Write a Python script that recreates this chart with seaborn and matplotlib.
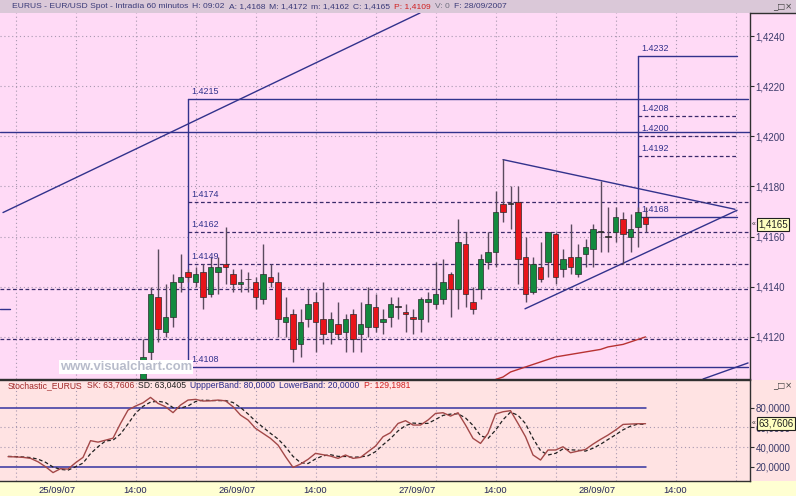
import numpy as np
import pandas as pd
import seaborn as sns
import matplotlib.pyplot as plt
from matplotlib.patches import Rectangle

# hourly bars, bar 0 = 25/09/07 01:00
bars = list(range(14, 82))
opens = [1.4098, 1.4114, 1.4136, 1.4122, 1.4128, 1.4142, 1.4146, 1.4142, 1.4146, 1.4137,
         1.4146, 1.4149, 1.4145, 1.4141, 1.4143, 1.4142, 1.4135, 1.4144, 1.4142, 1.4126,
         1.4129, 1.4117, 1.4127, 1.4134, 1.4127, 1.4122, 1.4125, 1.4122, 1.4129, 1.4121,
         1.4124, 1.4132, 1.4126, 1.4128, 1.4132, 1.4130, 1.4128, 1.4127, 1.4134, 1.4133,
         1.4135, 1.4145, 1.4139, 1.4157, 1.4134, 1.4139, 1.4150, 1.4154, 1.4173, 1.4173,
         1.4174, 1.4152, 1.4138, 1.4148, 1.4150, 1.4161, 1.4147, 1.4152, 1.4145, 1.4153,
         1.4155, 1.4162, 1.4160, 1.4162, 1.4167, 1.4160, 1.4164, 1.4168]
highs = [1.4119, 1.4140, 1.4155, 1.4141, 1.4145, 1.4153, 1.4147, 1.4148, 1.4149, 1.4152,
         1.4152, 1.4164, 1.4147, 1.4147, 1.4146, 1.4144, 1.4157, 1.4149, 1.4146, 1.4136,
         1.4131, 1.4131, 1.4139, 1.4138, 1.4142, 1.4130, 1.4134, 1.4129, 1.4131, 1.4134,
         1.4140, 1.4137, 1.4131, 1.4136, 1.4136, 1.4133, 1.4131, 1.4136, 1.4138, 1.4150,
         1.4151, 1.4146, 1.4167, 1.4162, 1.4140, 1.4153, 1.4162, 1.4178, 1.4191, 1.4180,
         1.4180, 1.4160, 1.4152, 1.4158, 1.4162, 1.4162, 1.4155, 1.4165, 1.4157, 1.4159,
         1.4165, 1.4182, 1.4172, 1.4172, 1.4170, 1.4169, 1.4172, 1.4172]
lows = [1.4095, 1.4110, 1.4118, 1.4120, 1.4124, 1.4138, 1.4142, 1.4140, 1.4131, 1.4136,
        1.4137, 1.4141, 1.4138, 1.4138, 1.4138, 1.4131, 1.4133, 1.4140, 1.4120, 1.4120,
        1.4110, 1.4112, 1.4124, 1.4114, 1.4117, 1.4117, 1.4119, 1.4114, 1.4114, 1.4114,
        1.4120, 1.4122, 1.4121, 1.4124, 1.4127, 1.4122, 1.4121, 1.4122, 1.4126, 1.4131,
        1.4133, 1.4128, 1.4131, 1.4132, 1.4129, 1.4135, 1.4147, 1.4148, 1.4166, 1.4163,
        1.4141, 1.4134, 1.4137, 1.4142, 1.4144, 1.4141, 1.4144, 1.4145, 1.4144, 1.4148,
        1.4148, 1.4154, 1.4154, 1.4158, 1.4149, 1.4154, 1.4156, 1.4162]
closes = [1.4112, 1.4137, 1.4123, 1.4128, 1.4142, 1.4144, 1.4144, 1.4145, 1.4136, 1.4148,
          1.4148, 1.4148, 1.4141, 1.4142, 1.4143, 1.4136, 1.4145, 1.4142, 1.4127, 1.4128,
          1.4115, 1.4126, 1.4133, 1.4126, 1.4121, 1.4127, 1.4121, 1.4127, 1.4119, 1.4125,
          1.4133, 1.4124, 1.4127, 1.4133, 1.4132, 1.4129, 1.4127, 1.4135, 1.4135, 1.4137,
          1.4142, 1.4139, 1.4158, 1.4137, 1.4131, 1.4151, 1.4154, 1.4170, 1.4170, 1.4173,
          1.4151, 1.4137, 1.4149, 1.4143, 1.4162, 1.4144, 1.4151, 1.4148, 1.4152, 1.4156,
          1.4163, 1.4162, 1.4160, 1.4168, 1.4161, 1.4163, 1.4170, 1.4165]

# long moving average (red curve)
ma_bars = list(range(61, 82))
ma_vals = [1.4103, 1.4104, 1.4106, 1.4107, 1.4108, 1.4109, 1.4110, 1.4111, 1.4112, 1.41125,
           1.4113, 1.41135, 1.4114, 1.41145, 1.4115, 1.4116, 1.41165, 1.4117, 1.4118, 1.4119,
           1.4120]

# stochastic
st_bars = list(range(-4, 82))
sk = [30.2, 30, 29.5, 28.5, 25, 20, 14, 18, 17.6, 24, 29.5, 46.5, 45, 47, 49, 64, 77.6, 81.7,
      85, 90.5, 84.4, 81, 75, 82.7, 87.8, 88.5, 86.8, 87, 87.8, 87, 81, 72.5, 67.5, 59, 53.9,
      48.8, 42, 30.2, 19.3, 22.7, 27.5, 33.6, 32.2, 30.8, 28.5, 31.9, 28.5, 29.5, 35.3, 41,
      50.5, 54.6, 64, 66.8, 62.4, 62.4, 67.5, 74.2, 74.9, 71.5, 74.9, 62.4, 48.8, 43.7, 53.9,
      73.6, 75.9, 77, 64, 50.5, 31.9, 26.8, 37, 37, 40.3, 34.2, 35.9, 37.6, 43, 47.8, 52.2,
      57.3, 63, 63.4, 63.7, 63.76]
sd = [30.5, 30.3, 29.9, 29.3, 27.7, 24.5, 19.7, 17.3, 16.5, 19.9, 23.7, 33.3, 40.3, 46.2, 47,
      53.3, 63.5, 74.4, 81.4, 85.7, 86.6, 85.3, 80.1, 79.6, 81.8, 86.3, 87.7, 87.4, 87.2, 87.3,
      85.3, 80.2, 73.7, 66.3, 60.1, 53.9, 48.2, 40.3, 30.5, 24.1, 23.2, 27.9, 31.1, 32.2, 30.5,
      30.4, 29.6, 30, 31.1, 35.3, 42.3, 48.7, 56.4, 61.8, 64.4, 63.9, 64.1, 68, 72.2, 73.5,
      73.8, 69.6, 62, 51.6, 48.8, 57.1, 67.8, 75.5, 72.3, 63.8, 48.8, 36.4, 31.9, 33.6, 38.1,
      37.2, 36.8, 35.9, 38.8, 42.8, 47.7, 52.4, 57.5, 61.2, 63.4, 63.04]

# drawn levels
fib_a = [1.4215, 1.4174, 1.4162, 1.4149, 1.4108]
fib_b = [1.4232, 1.4208, 1.4200, 1.4192, 1.4168]
full_dashed = [1.4139, 1.4119]
full_solid = 1.42017

W, H = 796, 496
NAVY = '#32328c'
PINK = '#ffdaf6'
SALMON = '#ffe3e3'
YELLOW = '#ffffd2'

sns.set_style('white')
plt.rcParams['font.family'] = ['Liberation Sans', 'DejaVu Sans']

fig = plt.figure(figsize=(W / 100, H / 100), dpi=100)


def fx(px):
    return px / W


def fy(py):
    return 1 - py / H


for (x0, y0, x1, y1, c) in [(0, 0, W, 13, '#dac8d8'), (750, 13, W, 380, PINK),
                            (750, 380, W, 481, SALMON), (0, 481, W, H, YELLOW)]:
    fig.patches.append(Rectangle((fx(x0), fy(y1)), fx(x1) - fx(x0), fy(y0) - fy(y1),
                                 transform=fig.transFigure, fc=c, ec='none', zorder=-5))

ax = fig.add_axes([0, fy(379), fx(750), fy(13) - fy(379)])
ax2 = fig.add_axes([0, fy(481), fx(750), fy(380) - fy(481)])
ax.set_facecolor(PINK)
ax2.set_facecolor(SALMON)

XL = (-5.07, 94.93)
grid_x = list(range(-3, 95, 8))

for a in (ax, ax2):
    a.set_xlim(*XL)
    for s in a.spines.values():
        s.set_color('#303030')
        s.set_linewidth(1)
    a.spines['left'].set_visible(False)
    a.yaxis.tick_right()
    a.grid(True, ls=(0, (1, 2.5)), color='#a898b0', lw=0.8)
    a.set_axisbelow(True)

ax.spines['top'].set_visible(False)

# ---- main price panel
ax.set_ylim(1.41032, 1.42492)
pt = np.arange(1.4120, 1.42401, 0.002)
ax.set_yticks(pt, [f'{v:.4f}'.replace('.', ',') for v in pt])
ax.set_xticks(grid_x)
ax.tick_params(axis='x', length=0, labelbottom=False)
ax.tick_params(axis='y', direction='out', length=3, pad=1, labelsize=7,
               labelcolor='#3a3a6a', color='#303030')

for b, o, h, l, c in zip(bars, opens, highs, lows, closes):
    col = '#138a3f' if c > o else ('#e8141a' if c < o else '#303030')
    ax.vlines(b, l, h, color='#5a4a5e', lw=1, zorder=3)
    body = max(abs(c - o), 0.000025)
    ax.bar(b, body, bottom=min(o, c), width=0.72, color=col, edgecolor='#2a2a2a',
           lw=0.5, zorder=4)

ax.plot(ma_bars, ma_vals, color='#b83232', lw=1, zorder=3)

# trend lines
ax.plot([-4.67, 50.93], [1.41696, 1.42492], color=NAVY, lw=1)
ax.plot([62.0, 92.93], [1.41907, 1.41709], color=NAVY, lw=1)
ax.plot([64.93, 93.2], [1.41312, 1.41705], color=NAVY, lw=1)
ax.plot([88.67, 94.67], [1.41032, 1.41096], color=NAVY, lw=1)
ax.plot([-5.07, -3.7], [1.41312, 1.41312], color=NAVY, lw=1)

# full width levels
ax.plot(XL, [full_solid, full_solid], color=NAVY, lw=1)
for v in full_dashed:
    ax.plot([-5.07, 94.6], [v, v], color='#3a2a6a', lw=0.9, ls=(0, (3, 2)))

# retracement set A
ax.plot([20, 20], [fib_a[0], fib_a[-1]], color=NAVY, lw=1)
for k, v in enumerate(fib_a):
    solid = k in (0, len(fib_a) - 1)
    ax.plot([20, 94.6], [v, v], color=NAVY if solid else '#3a2a6a', lw=1 if solid else 0.9,
            ls='-' if solid else (0, (3, 2)))
    ax.text(20.4, v + 0.00012, f'{v:.4f}', fontsize=6.5, color=NAVY, va='bottom', ha='left')

# retracement set B
ax.plot([80, 80], [fib_b[0], fib_b[-1]], color=NAVY, lw=1)
for k, v in enumerate(fib_b):
    solid = k in (0, len(fib_b) - 1)
    ax.plot([80, 93.2], [v, v], color=NAVY if solid else '#3a2a6a', lw=1 if solid else 0.9,
            ls='-' if solid else (0, (3, 2)))
    ax.text(80.4, v + 0.00012, f'{v:.4f}', fontsize=6.5, color=NAVY, va='bottom', ha='left')

# current price box
ax.text(1.011, closes[-1], '1,4165', transform=ax.get_yaxis_transform(), fontsize=7,
        color='#202020', va='center', ha='left', zorder=6,
        bbox=dict(boxstyle='square,pad=0.15', fc='#ffffc0', ec='#202020', lw=0.8))
ax.text(1.002, closes[-1], '«', transform=ax.get_yaxis_transform(), fontsize=5,
        color='#303030', va='center', ha='left')

# watermark
fig.text(fx(60), fy(367), 'www.visualchart.com', fontsize=9.4, weight='bold',
         color='#b8bccb', va='center', ha='left', zorder=10,
         bbox=dict(boxstyle='square,pad=0.1', fc='white', ec='none'))

# ---- stochastic panel
ax2.set_ylim(5.46, 108.2)
ax2.set_yticks([20, 40, 60, 80], ['20,0000', '40,0000', '60,0000', '80,0000'])
ax2.tick_params(axis='y', direction='out', length=3, pad=1, labelsize=7,
                labelcolor='#3a3a6a', color='#303030')
ax2.grid(False, axis='y')
for v in (40, 60):
    ax2.axhline(v, ls=(0, (1, 2.5)), color='#a898b0', lw=0.8, zorder=0)
for v in (20, 80):
    ax2.plot([-5.07, 81], [v, v], color='#3434a0', lw=1.1)

stoch = pd.DataFrame({'bar': st_bars, 'SK': sk, 'SD': sd})
sns.lineplot(data=stoch, x='bar', y='SD', ax=ax2, color='#202020', lw=0.9,
             linestyle=(0, (3, 2)))
sns.lineplot(data=stoch, x='bar', y='SK', ax=ax2, color='#a34848', lw=1)
ax2.set_xlabel('')
ax2.set_ylabel('')

ax2.text(1.011, sk[-1], '63,7606', transform=ax2.get_yaxis_transform(), fontsize=7,
         color='#202020', va='center', ha='left', zorder=6,
         bbox=dict(boxstyle='square,pad=0.15', fc='#ffffc0', ec='#202020', lw=0.8))
ax2.text(1.002, sk[-1], '«', transform=ax2.get_yaxis_transform(), fontsize=5,
         color='#303030', va='center', ha='left')

# date axis
time_labels = ['14:00' if (g - 13) % 24 == 0 else '' for g in grid_x]
ax2.set_xticks(grid_x, time_labels)
ax2.set_xticks([0, 24, 48, 72], ['25/09/07', '26/09/07', '27/09/07', '28/09/07'], minor=True)
ax2.tick_params(axis='x', which='major', direction='out', length=3, pad=0.5, labelsize=6.8,
                labelcolor='#23235a', color='#303030')
ax2.tick_params(axis='x', which='minor', direction='out', length=8, pad=-4.5, labelsize=6.8,
                labelcolor='#23235a', color='#303030')
for t in ax2.get_xticklabels(minor=True):
    t.set_ha('left')

# ---- header texts
fig.canvas.draw()
renderer = fig.canvas.get_renderer()


def seg_text(x, y, parts, size):
    for s, c in parts:
        t = fig.text(fx(x), fy(y), s, color=c, fontsize=size, va='center', ha='left')
        x += t.get_window_extent(renderer).width + 4


TXT = '#3a3a78'
seg_text(12, 6.5, [('EURUS - EUR/USD Spot - Intradía 60 minutos', TXT), ('H: 09:02', TXT),
                   ('A: 1,4168', TXT), ('M: 1,4172', TXT), ('m: 1,4162', TXT),
                   ('C: 1,4165', TXT), ('P: 1,4109', '#d02020'), ('V: 0', '#707080'),
                   ('F: 28/09/2007', TXT)], 6.1)
seg_text(8, 385.5, [('Stochastic_EURUS', '#a02828'), ('SK: 63,7606', '#a02828'),
                    ('SD: 63,0405', '#202020'), ('UppperBand: 80,0000', '#28288a'),
                    ('LowerBand: 20,0000', '#28288a'), ('P: 129,1981', '#d02020')], 6.2)
for yy in (6.5, 386):
    fig.text(fx(792), fy(yy), '_□×', fontsize=6, color='#404040', va='center', ha='right',
             family='DejaVu Sans')

fig.lines.append(plt.Line2D([fx(750), 1], [fy(13), fy(13)], transform=fig.transFigure,
                            color='#303030', lw=1))

fig.savefig('out.png', dpi=100)
